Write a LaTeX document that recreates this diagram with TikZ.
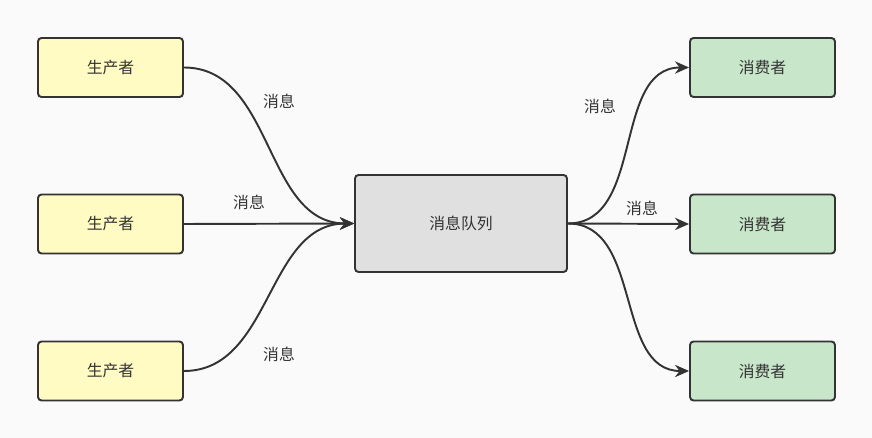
\documentclass[tikz,border=0pt]{standalone}
\usepackage{fontspec}
\setmainfont{Noto Sans CJK SC}
\usetikzlibrary{arrows.meta}
\definecolor{bg}{HTML}{FAFAFA}
\definecolor{ink}{HTML}{333333}
\definecolor{prodfill}{HTML}{FFFBC3}
\definecolor{consfill}{HTML}{C8E6C9}
\definecolor{queuefill}{HTML}{E0E0E0}
\begin{document}
\begin{tikzpicture}[x=0.02cm, y=-0.02cm,
	box/.style={draw=ink, line width=1.1pt, rounded corners=2pt, minimum width=2.9cm, minimum height=1.18cm, font=\fontsize{9}{11}\selectfont, text=ink},
	producer/.style={box, fill=prodfill},
	consumer/.style={box, fill=consfill},
	queue/.style={box, fill=queuefill, minimum width=4.24cm, minimum height=1.94cm},
	flow/.style={draw=ink, line width=1.1pt, -{Stealth[length=8pt,width=7pt]}},
	msg/.style={font=\fontsize{9}{11}\selectfont, text=ink}]
	\fill[bg] (0, 0) rectangle (872, 438);
	
	\node[producer] (p1) at (110.5, 67.5) {生产者};
	\node[producer] (p2) at (110.5, 224) {生产者};
	\node[producer] (p3) at (110.5, 371) {生产者};
	\node[queue] (q) at (461, 223.5) {消息队列};
	\node[consumer] (c1) at (762.5, 67.5) {消费者};
	\node[consumer] (c2) at (762.5, 224) {消费者};
	\node[consumer] (c3) at (762.5, 371) {消费者};
	
	\draw[flow] (p1.east) to[out=0, in=180] (q.west);
	\draw[flow] (p2.east) -- (q.west);
	\draw[flow] (p3.east) to[out=0, in=180] (q.west);
	\draw[flow] (q.east) to[out=0, in=180] (c1.west);
	\draw[flow] (q.east) -- (c2.west);
	\draw[flow] (q.east) to[out=0, in=180] (c3.west);
	
	\node[msg] (m1) at (279, 101) {消息};
	\node[msg] (m2) at (249, 202) {消息};
	\node[msg] (m3) at (279, 354) {消息};
	\node[msg] (m4) at (600, 106) {消息};
	\node[msg] (m5) at (642, 208) {消息};
\end{tikzpicture}
\end{document}
